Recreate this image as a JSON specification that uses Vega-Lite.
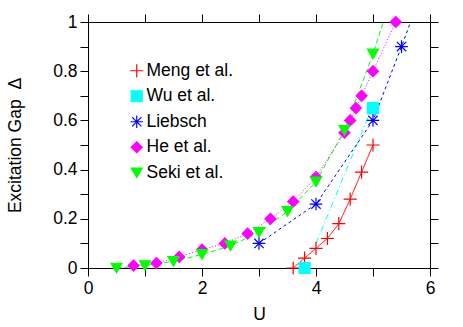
{
  "$schema": "https://vega.github.io/schema/vega-lite/v6.json",
  "width": 342,
  "height": 246,
  "autosize": {"type": "none"},
  "padding": {"left": 88, "top": 22, "right": 33, "bottom": 59},
  "background": "white",
  "config": {
    "view": {"stroke": "black", "strokeWidth": 1},
    "font": "Liberation Sans",
    "axis": {
      "labelFont": "Liberation Sans", "labelFontSize": 17.5, "labelColor": "black",
      "titleFont": "Liberation Sans", "titleFontSize": 17.5, "titleFontWeight": "normal", "titleColor": "black",
      "tickColor": "black", "tickWidth": 1, "domain": false, "grid": false, "labelFlush": false, "labelOverlap": false
    },
    "legend": {"labelFont": "Liberation Sans", "labelFontSize": 17.5, "labelColor": "black",
      "orient": "none", "legendX": 40, "legendY": 40, "padding": 0, "rowPadding": 6.5,
      "symbolSize": 121, "symbolStrokeWidth": 1.2, "labelOffset": 1}
  },
  "datasets": {
    "pts": [
      {"series": "Meng et al.", "U": 3.6, "D": 0.0},
      {"series": "Meng et al.", "U": 3.8, "D": 0.04},
      {"series": "Meng et al.", "U": 4.0, "D": 0.08},
      {"series": "Meng et al.", "U": 4.2, "D": 0.12},
      {"series": "Meng et al.", "U": 4.4, "D": 0.18},
      {"series": "Meng et al.", "U": 4.6, "D": 0.28},
      {"series": "Meng et al.", "U": 4.8, "D": 0.39},
      {"series": "Meng et al.", "U": 5.0, "D": 0.5},
      {"series": "Wu et al.", "U": 3.8, "D": 0.0},
      {"series": "Wu et al.", "U": 5.0, "D": 0.65},
      {"series": "Liebsch", "U": 3.0, "D": 0.1},
      {"series": "Liebsch", "U": 4.0, "D": 0.26},
      {"series": "Liebsch", "U": 5.0, "D": 0.6},
      {"series": "Liebsch", "U": 5.5, "D": 0.9},
      {"series": "He et al.", "U": 0.8, "D": 0.01},
      {"series": "He et al.", "U": 1.2, "D": 0.02},
      {"series": "He et al.", "U": 1.6, "D": 0.045},
      {"series": "He et al.", "U": 2.0, "D": 0.075},
      {"series": "He et al.", "U": 2.4, "D": 0.1},
      {"series": "He et al.", "U": 2.8, "D": 0.14},
      {"series": "He et al.", "U": 3.2, "D": 0.2},
      {"series": "He et al.", "U": 3.6, "D": 0.27},
      {"series": "He et al.", "U": 4.0, "D": 0.37},
      {"series": "He et al.", "U": 4.5, "D": 0.55},
      {"series": "He et al.", "U": 4.6, "D": 0.6},
      {"series": "He et al.", "U": 4.7, "D": 0.65},
      {"series": "He et al.", "U": 4.8, "D": 0.7},
      {"series": "He et al.", "U": 5.0, "D": 0.8},
      {"series": "He et al.", "U": 5.4, "D": 1.0},
      {"series": "Seki et al.", "U": 0.5, "D": 0.0},
      {"series": "Seki et al.", "U": 1.0, "D": 0.01},
      {"series": "Seki et al.", "U": 1.5, "D": 0.027},
      {"series": "Seki et al.", "U": 2.0, "D": 0.055},
      {"series": "Seki et al.", "U": 2.5, "D": 0.09},
      {"series": "Seki et al.", "U": 3.0, "D": 0.145},
      {"series": "Seki et al.", "U": 3.5, "D": 0.23},
      {"series": "Seki et al.", "U": 4.0, "D": 0.35},
      {"series": "Seki et al.", "U": 4.5, "D": 0.56},
      {"series": "Seki et al.", "U": 5.0, "D": 0.87}
    ],
    "crv": [
      {"series": "Meng et al.", "U": 3.6, "D": 0.0},
      {"series": "Meng et al.", "U": 3.8, "D": 0.04},
      {"series": "Meng et al.", "U": 4.0, "D": 0.08},
      {"series": "Meng et al.", "U": 4.2, "D": 0.12},
      {"series": "Meng et al.", "U": 4.4, "D": 0.18},
      {"series": "Meng et al.", "U": 4.6, "D": 0.28},
      {"series": "Meng et al.", "U": 4.8, "D": 0.39},
      {"series": "Meng et al.", "U": 5.0, "D": 0.5},
      {"series": "Wu et al.", "U": 4.0, "D": 0.1},
      {"series": "Wu et al.", "U": 5.0, "D": 0.66},
      {"series": "Liebsch", "U": 3.0, "D": 0.1},
      {"series": "Liebsch", "U": 4.0, "D": 0.26},
      {"series": "Liebsch", "U": 5.0, "D": 0.6},
      {"series": "Liebsch", "U": 5.5, "D": 0.9},
      {"series": "Liebsch", "U": 5.66, "D": 1.0},
      {"series": "He et al.", "U": 0.8, "D": 0.01},
      {"series": "He et al.", "U": 1.2, "D": 0.02},
      {"series": "He et al.", "U": 1.6, "D": 0.045},
      {"series": "He et al.", "U": 2.0, "D": 0.075},
      {"series": "He et al.", "U": 2.4, "D": 0.1},
      {"series": "He et al.", "U": 2.8, "D": 0.14},
      {"series": "He et al.", "U": 3.2, "D": 0.2},
      {"series": "He et al.", "U": 3.6, "D": 0.27},
      {"series": "He et al.", "U": 4.0, "D": 0.37},
      {"series": "He et al.", "U": 4.5, "D": 0.55},
      {"series": "He et al.", "U": 4.6, "D": 0.6},
      {"series": "He et al.", "U": 4.7, "D": 0.65},
      {"series": "He et al.", "U": 4.8, "D": 0.7},
      {"series": "He et al.", "U": 5.0, "D": 0.8},
      {"series": "He et al.", "U": 5.4, "D": 1.0},
      {"series": "Seki et al.", "U": 0.5, "D": 0.0},
      {"series": "Seki et al.", "U": 1.0, "D": 0.01},
      {"series": "Seki et al.", "U": 1.5, "D": 0.027},
      {"series": "Seki et al.", "U": 2.0, "D": 0.055},
      {"series": "Seki et al.", "U": 2.5, "D": 0.09},
      {"series": "Seki et al.", "U": 3.0, "D": 0.145},
      {"series": "Seki et al.", "U": 3.5, "D": 0.23},
      {"series": "Seki et al.", "U": 4.0, "D": 0.35},
      {"series": "Seki et al.", "U": 4.5, "D": 0.56},
      {"series": "Seki et al.", "U": 5.0, "D": 0.87},
      {"series": "Seki et al.", "U": 5.18, "D": 1.0}
    ]
  },
  "resolve": {"axis": {"x": "independent", "y": "independent"}},
  "layer": [
    {
      "data": {"name": "crv"},
      "mark": {"type": "line", "strokeWidth": 1, "clip": true},
      "encoding": {
        "x": {"field": "U", "type": "quantitative", "scale": {"domain": [0, 6], "nice": false, "zero": false},
          "axis": {"orient": "top", "values": [0, 1, 2, 3, 4, 5, 6], "labels": false, "title": null, "tickSize": 8,
            "encoding": {"ticks": {"y2": {"signal": "datum.value % 2 == 0 ? 8 : 4"}}}}},
        "y": {"field": "D", "type": "quantitative", "scale": {"domain": [0, 1], "nice": false, "zero": false},
          "axis": {"orient": "right", "values": [0, 0.1, 0.2, 0.3, 0.4, 0.5, 0.6, 0.7, 0.8, 0.9, 1], "labels": false, "title": null, "tickSize": 8,
            "encoding": {"ticks": {"x2": {"signal": "round(datum.value*10) % 2 == 0 ? -8 : -4"}}}}},
        "color": {"field": "series", "type": "nominal", "legend": null,
          "scale": {"domain": ["Seki et al.", "He et al.", "Liebsch", "Wu et al.", "Meng et al."],
            "range": ["#00ff00", "#ff00ff", "#0000ff", "#00ffff", "#ff0000"]}},
        "strokeDash": {"field": "series", "type": "nominal", "legend": null,
          "scale": {"domain": ["Seki et al.", "He et al.", "Liebsch", "Wu et al.", "Meng et al."],
            "range": [[5, 3], [1, 2], [3, 3], [6, 3, 1, 3], [1, 0]]}},
        "order": {"field": "U", "type": "quantitative"}
      }
    },
    {
      "data": {"name": "pts"},
      "mark": {"type": "point", "size": 121, "strokeWidth": 1.2, "opacity": 1, "fillOpacity": 1, "clip": false},
      "encoding": {
        "x": {"field": "U", "type": "quantitative",
          "axis": {"orient": "bottom", "values": [0, 1, 2, 3, 4, 5, 6], "title": "U", "titlePadding": 8,
            "labelExpr": "datum.value % 2 == 0 ? datum.label : ''", "labelPadding": 3.5, "tickSize": 8,
            "encoding": {"ticks": {"y2": {"signal": "datum.value % 2 == 0 ? -8 : -4"}}}}},
        "y": {"field": "D", "type": "quantitative",
          "axis": {"orient": "left", "values": [0, 0.1, 0.2, 0.3, 0.4, 0.5, 0.6, 0.7, 0.8, 0.9, 1], "format": "~g",
            "title": "Excitation Gap \u00a0Δ", "titlePadding": 28,
            "labelExpr": "round(datum.value*10) % 2 == 0 ? datum.label : ''", "labelPadding": 3, "tickSize": 8,
            "encoding": {"ticks": {"x2": {"signal": "round(datum.value*10) % 2 == 0 ? 8 : 4"}}}}},
        "shape": {"field": "series", "type": "nominal",
          "scale": {"domain": ["Meng et al.", "Wu et al.", "Liebsch", "He et al.", "Seki et al."],
            "range": ["M-1.2,0H1.2M0,-1.2V1.2", "square", "M-1.15,0H1.15M0,-1.15V1.15M-0.85,-0.85L0.85,0.85M-0.85,0.85L0.85,-0.85", "diamond", "triangle-down"]},
          "legend": {"title": null}},
        "fill": {"field": "series", "type": "nominal",
          "scale": {"domain": ["Meng et al.", "Wu et al.", "Liebsch", "He et al.", "Seki et al."],
            "range": ["transparent", "#00ffff", "transparent", "#ff00ff", "#00ff00"]},
          "legend": {"title": null}},
        "stroke": {"field": "series", "type": "nominal",
          "scale": {"domain": ["Meng et al.", "Wu et al.", "Liebsch", "He et al.", "Seki et al."],
            "range": ["#ff0000", "#00ffff", "#0000ff", "#ff00ff", "#00ff00"]},
          "legend": {"title": null}}
      }
    }
  ]
}
